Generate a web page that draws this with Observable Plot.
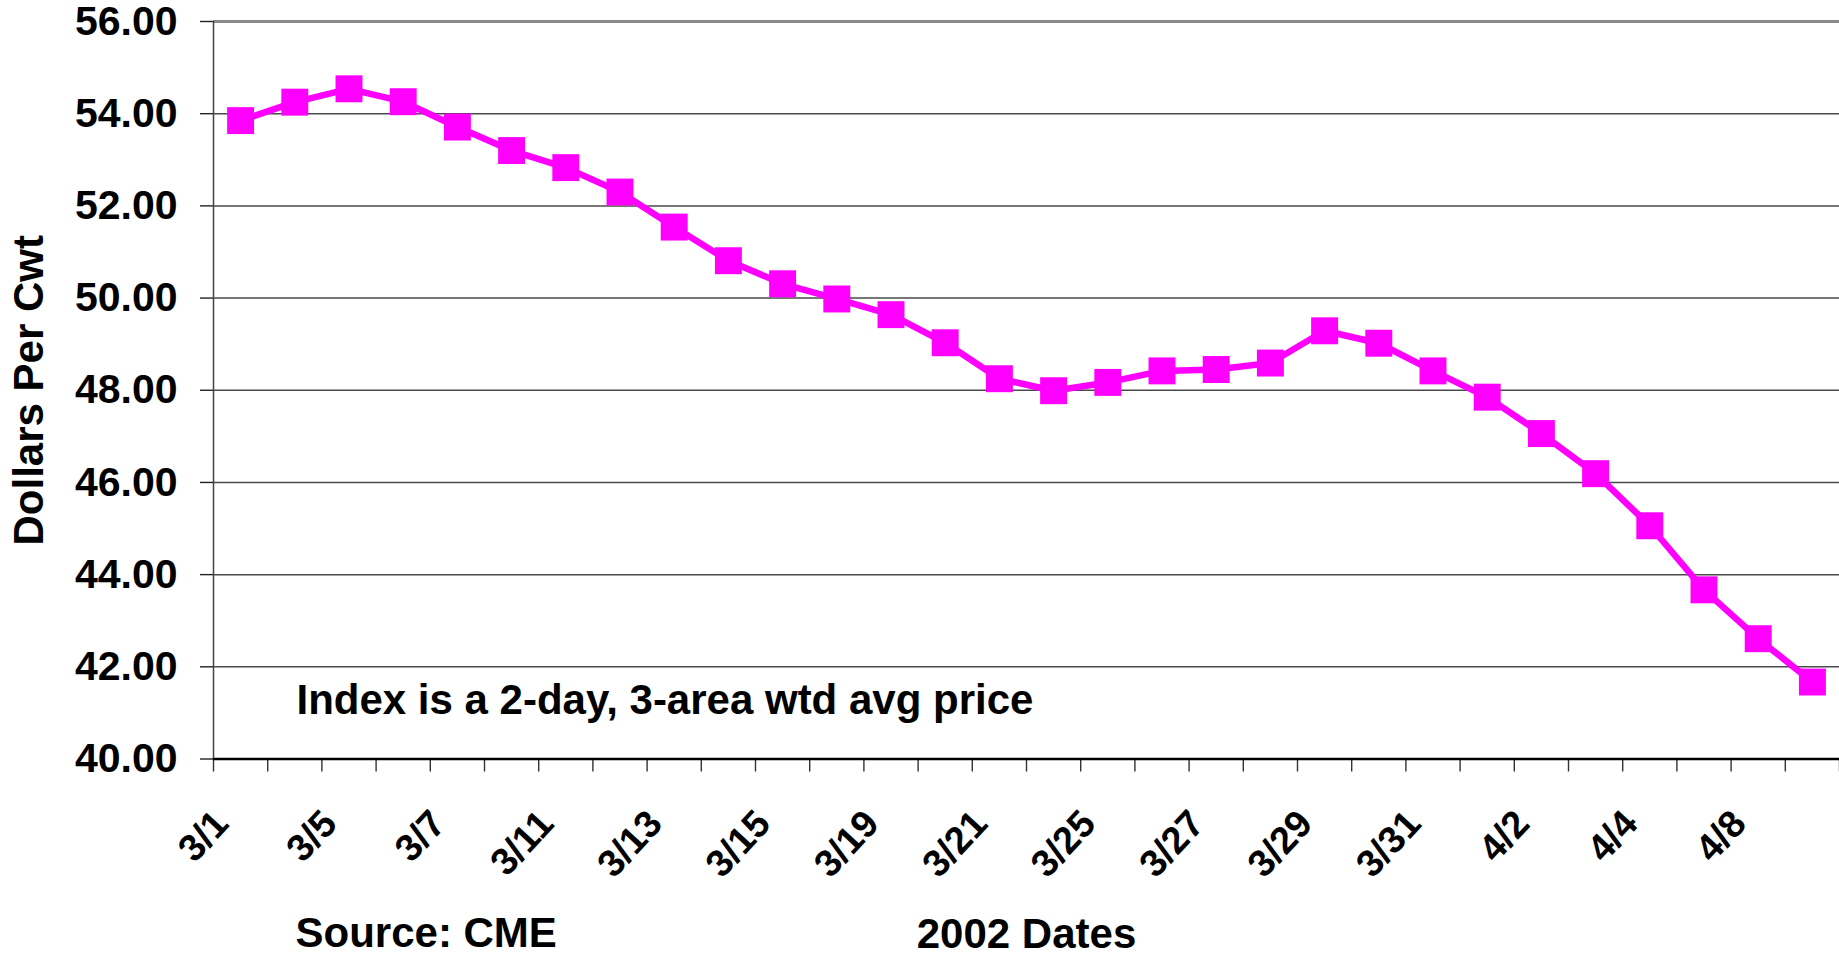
<!DOCTYPE html>
<html>
<head>
<meta charset="utf-8">
<script src="https://cdn.jsdelivr.net/npm/d3@7"></script>
<script src="https://cdn.jsdelivr.net/npm/@observablehq/plot@0.6"></script>
<style>
  html, body { margin: 0; padding: 0; background: #fff; }
  #chart svg { display: block; }
</style>
</head>
<body>
<div id="chart"></div>
<script>
// ---- data ----
const dates = ["3/1","3/4","3/5","3/6","3/7","3/8","3/11","3/12","3/13","3/14","3/15","3/18","3/19","3/20","3/21","3/22","3/25","3/26","3/27","3/28","3/29","3/30","3/31","4/1","4/2","4/3","4/4","4/5","4/8","4/9"];
const prices = [53.85,54.25,54.54,54.26,53.71,53.20,52.83,52.30,51.54,50.81,50.31,49.98,49.64,49.03,48.25,47.99,48.17,48.42,48.45,48.59,49.29,49.02,48.42,47.85,47.06,46.19,45.06,43.67,42.61,41.67];
const tickLabels = ["3/1","3/5","3/7","3/11","3/13","3/15","3/19","3/21","3/25","3/27","3/29","3/31","4/2","4/4","4/8"];
const yTicks = [40,42,44,46,48,50,52,54,56];
const yTitle = "Dollars Per Cwt";
const xTitle = "2002 Dates";
const note = "Index is a 2-day, 3-area wtd avg price";
const source = "Source: CME";

const rows = dates.map((d, i) => ({date: d, idx: i, price: prices[i]}));
const boundaries = d3.range(dates.length + 1).map(i => i - 0.5);

const FONT = "'Liberation Sans', Arial, Helvetica, sans-serif";
const MAG = "#FF00FF";

const chart = Plot.plot({
  width: 1839,
  height: 955,
  marginLeft: 213,
  marginRight: 0,
  marginTop: 21,
  marginBottom: 196.5,
  style: {fontFamily: FONT, fontWeight: "bold", fontSize: "41px", color: "black", background: "white", overflow: "visible"},
  x: {domain: [-0.5, dates.length - 0.5], axis: null},
  y: {domain: [40, 56], axis: null},
  marks: [
    // gridlines
    Plot.ruleY(yTicks.filter(v => v > 40 && v < 56), {y: d => d, stroke: "#4a4a4a", strokeWidth: 1.5}),
    Plot.ruleY([56], {stroke: "#8a8a8a", strokeWidth: 2.8}),
    // y axis
    Plot.axisY({ticks: yTicks, tickFormat: d3.format(".2f"), tickSize: 13, tickPadding: 23,
      fontSize: 41, fontWeight: "bold", stroke: "#222", strokeWidth: 1.4, label: null}),
    Plot.ruleX([-0.5], {stroke: "#444", strokeWidth: 1.5}),
    // x axis ticks at category boundaries
    Plot.axisX({ticks: boundaries, tickFormat: () => "", tickSize: 13, stroke: "#333", strokeWidth: 1.4, label: null}),
    Plot.ruleY([40], {stroke: "black", strokeWidth: 2.5}),
    // x tick labels
    Plot.text(tickLabels, {x: d => dates.indexOf(d), frameAnchor: "bottom", dy: 58, dx: -19,
      rotate: -47, textAnchor: "end", lineAnchor: "middle", fontSize: 38, fontWeight: "bold", fill: "black"}),
    // series
    Plot.line(rows, {x: "idx", y: "price", stroke: MAG, strokeWidth: 6.5, strokeLinejoin: "miter"}),
    Plot.dot(rows, {x: "idx", y: "price", symbol: "square", r: 15.2, fill: MAG, stroke: "none"}),
    // titles / annotations
    Plot.text([yTitle], {frameAnchor: "left", dx: -184, rotate: -90, textAnchor: "middle", lineAnchor: "middle", fontSize: 42, fontWeight: "bold", fill: "black"}),
    Plot.text([note], {frameAnchor: "bottom-left", dx: 83, dy: -58.5, textAnchor: "start", lineAnchor: "middle", fontSize: 42, fontWeight: "bold", fill: "black"}),
    Plot.text([source], {frameAnchor: "bottom-left", dx: 82, dy: 175, textAnchor: "start", lineAnchor: "middle", fontSize: 42, fontWeight: "bold", fill: "black"}),
    Plot.text([xTitle], {frameAnchor: "bottom", dy: 176, textAnchor: "middle", lineAnchor: "middle", fontSize: 42, fontWeight: "bold", fill: "black"})
  ]
});
document.getElementById("chart").appendChild(chart);
</script>
</body>
</html>
